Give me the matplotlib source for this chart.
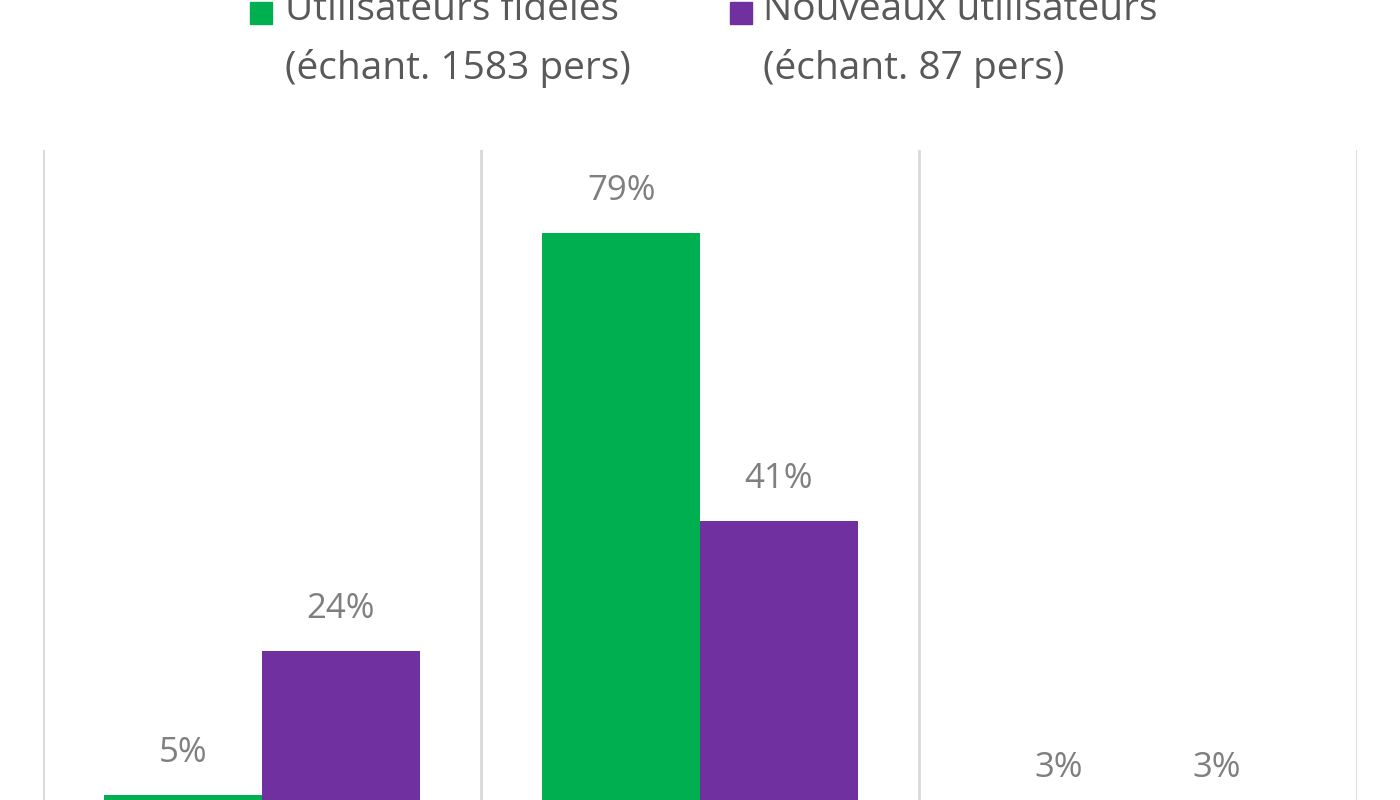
import matplotlib
matplotlib.use("Agg")
import matplotlib.pyplot as plt
from matplotlib.patches import Rectangle

categories = ["A", "B", "C"]
fideles = [5, 79, 3]
nouveaux = [24, 41, 3]
series_names = ["Utilisateurs fidèles\n(échant. 1583 pers)", "Nouveaux utilisateurs\n(échant. 87 pers)"]
colors = ["#00B050", "#7030A0"]

plt.rcParams['font.family'] = ['Open Sans', 'DejaVu Sans']
fig = plt.figure(figsize=(14, 8), dpi=100)
ax = fig.add_axes([43/1400, 1-833/800, (1357-43)/1400, (833-150)/800])
ax.set_xlim(0, 3)
ax.set_ylim(0, (833-150)/7.6)
w = 0.36
xs = [i + 0.5 for i in range(len(categories))]
for vals, off, c in [(fideles, -0.18, colors[0]), (nouveaux, 0.18, colors[1])]:
    for x, v in zip(xs, vals):
        ax.bar(x + off, v, width=w, color=c, zorder=3)
        ax.text(x + off, v + 3.3, f"{v}%", ha="center", va="bottom", fontsize=25, color="#7f7f7f")
for s in range(4):
    ax.axvline(s, color="#d9d9d9", lw=2, zorder=1)
ax.axis("off")

for (sx, tx), name, c in zip([(250, 285), (730, 763)], series_names, colors):
    fig.patches.append(Rectangle((sx/1400, 1-24/800), 22/1400, 22/800, transform=fig.transFigure, color=c))
    l1, l2 = name.split("\n")
    fig.text(tx/1400, 1-10/800, l1, ha="left", va="center", fontsize=28, color="#595959")
    fig.text(tx/1400, 1-68/800, l2, ha="left", va="center", fontsize=28, color="#595959")

fig.savefig("out.png", dpi=100)
